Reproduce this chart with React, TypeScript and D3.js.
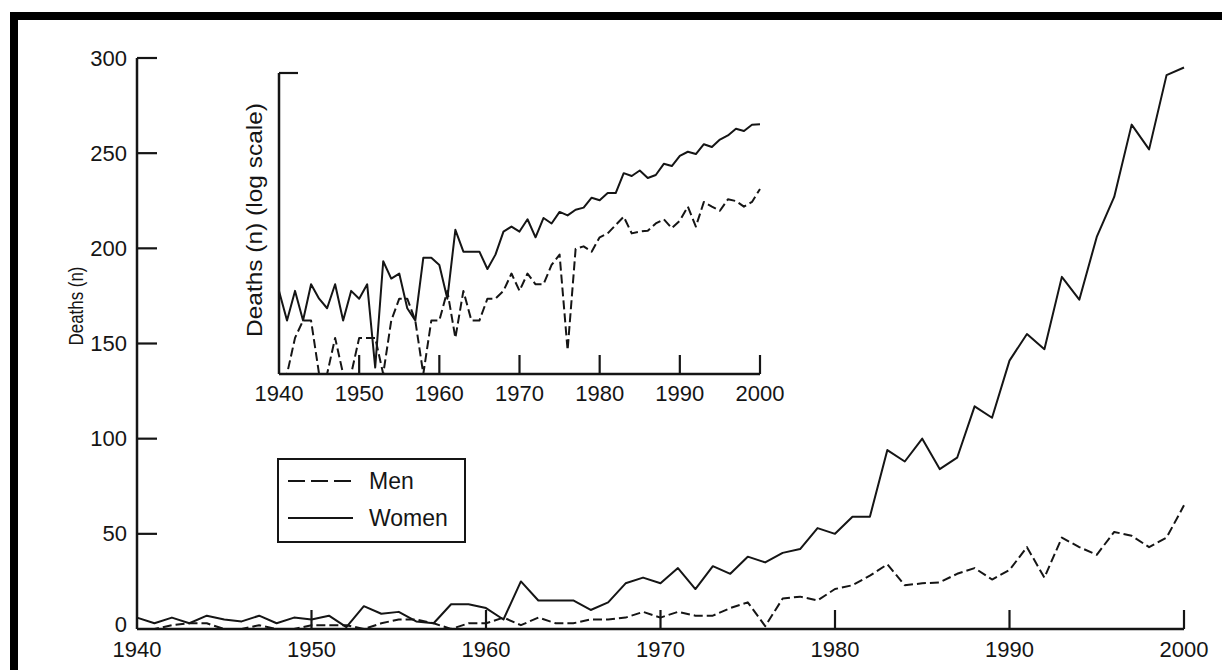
import React from "react";
import * as d3 from "d3";

// ---- data ----
const years: number[] = d3.range(1940, 2001);
const women: number[] = [
  6, 3, 6, 3, 7, 5, 4, 7, 3, 6,
  5, 7, 1, 12, 8, 9, 4, 3, 13, 13,
  11, 5, 25, 15, 15, 15, 10, 14, 24, 27,
  24, 32, 21, 33, 29, 38, 35, 40, 42, 53,
  50, 59, 59, 94, 88, 100, 84, 90, 117, 111,
  141, 155, 147, 185, 173, 206, 227, 265, 252, 291,
  295,
];
const men: number[] = [
  0, 0, 2, 3, 3, 0, 0, 2, 0, 0,
  2, 2, 2, 0, 3, 5, 5, 3, 0, 3,
  3, 6, 2, 6, 3, 3, 5, 5, 6, 9,
  6, 9, 7, 7, 11, 14, 1.5, 16, 17, 15,
  21, 23, 28, 34, 23, 24, 24.5, 29, 32, 26,
  31, 43, 27, 48, 43, 39, 51, 49, 43, 48,
  65,
];
const xTicks: number[] = [1940, 1950, 1960, 1970, 1980, 1990, 2000];
const yTicks: number[] = [0, 50, 100, 150, 200, 250, 300];
const legendItems = [
  { label: "Men", dashed: true },
  { label: "Women", dashed: false },
];

const FONT = "'Liberation Sans', Arial, sans-serif";
const INK = "#151515";

export default function App() {
  // main chart scales
  const x = d3.scaleLinear().domain([1940, 2000]).range([137, 1184]);
  const y = d3.scaleLinear().domain([0, 300]).range([629, 58]);
  // inset scales
  const ix = d3.scaleLinear().domain([1940, 2000]).range([279, 760]);
  const iyMin = 0.86;
  const iy = d3.scaleLog().domain([iyMin, 1000]).range([374, 72]);

  const mainLine = (vals: number[]) =>
    d3.line<number>().x((_, i) => x(years[i])).y((d) => y(d))(vals) || "";
  const insetLine = (vals: number[]) =>
    d3.line<number>().x((_, i) => ix(years[i])).y((d) => iy(Math.max(d, iyMin)))(vals) || "";

  const dash = "9,4";

  return (
    <svg
      width={1222}
      height={670}
      style={{ position: "absolute", left: 0, top: 0, background: "#fff" }}
      fontFamily={FONT}
    >
      <rect x={0} y={0} width={1222} height={670} fill="#fff" />
      {/* frame bars */}
      <rect x={10} y={12} width={1212} height={8} fill="#000" />
      <rect x={10} y={12} width={8} height={658} fill="#000" />

      {/* main axes */}
      <line x1={x(1940)} x2={x(2000)} y1={y(0)} y2={y(0)} stroke={INK} strokeWidth={2.5} />
      <line x1={x(1940)} x2={x(1940)} y1={y(0)} y2={y(300)} stroke={INK} strokeWidth={2.5} />
      {yTicks.filter((t) => t > 0).map((t) => (
        <line key={"yt" + t} x1={x(1940)} x2={x(1940) + 20} y1={y(t)} y2={y(t)} stroke={INK} strokeWidth={2.2} />
      ))}
      {yTicks.map((t) => (
        <text key={"yl" + t} x={127} y={t === 0 ? y(t) - 5 : y(t)} textAnchor="end" dominantBaseline="central" fontSize={22} fill={INK}>
          {t}
        </text>
      ))}
      {xTicks.filter((t) => t > 1940).map((t) => (
        <line key={"xt" + t} x1={x(t)} x2={x(t)} y1={y(0)} y2={y(0) - 19} stroke={INK} strokeWidth={2.2} />
      ))}
      {xTicks.map((t) => (
        <text key={"xl" + t} x={x(t)} y={657} textAnchor="middle" fontSize={22} fill={INK}>
          {t}
        </text>
      ))}
      <text
        transform={`translate(76,306) rotate(-90)`}
        textAnchor="middle"
        dominantBaseline="central"
        fontSize={20}
        textLength={79}
        lengthAdjust="spacingAndGlyphs"
        fill={INK}
      >
        Deaths (n)
      </text>

      {/* main series */}
      <path d={mainLine(women)} fill="none" stroke={INK} strokeWidth={2} strokeLinejoin="round" />
      <path d={mainLine(men)} fill="none" stroke={INK} strokeWidth={2} strokeDasharray={dash} strokeLinejoin="round" />

      {/* inset */}
      <line x1={ix(1940)} x2={ix(2000)} y1={374} y2={374} stroke={INK} strokeWidth={2.5} />
      <line x1={ix(1940)} x2={ix(1940)} y1={374} y2={73} stroke={INK} strokeWidth={2.5} />
      <line x1={ix(1940)} x2={ix(1940) + 19} y1={73} y2={73} stroke={INK} strokeWidth={2.2} />
      {xTicks.filter((t) => t > 1940).map((t) => (
        <line key={"ixt" + t} x1={ix(t)} x2={ix(t)} y1={374} y2={355} stroke={INK} strokeWidth={2.2} />
      ))}
      {xTicks.map((t) => (
        <text key={"ixl" + t} x={ix(t)} y={401} textAnchor="middle" fontSize={22} fill={INK}>
          {t}
        </text>
      ))}
      <text
        transform={`translate(254,220) rotate(-90)`}
        textAnchor="middle"
        dominantBaseline="central"
        fontSize={22}
        textLength={234}
        lengthAdjust="spacingAndGlyphs"
        fill={INK}
      >
        Deaths (n) (log scale)
      </text>
      <path d={insetLine(women)} fill="none" stroke={INK} strokeWidth={2} strokeLinejoin="round" />
      <path d={insetLine(men)} fill="none" stroke={INK} strokeWidth={2} strokeDasharray={dash} strokeLinejoin="round" />

      {/* legend */}
      <rect x={278} y={459} width={187} height={83} fill="#fff" stroke={INK} strokeWidth={2} />
      {legendItems.map((it, i) => (
        <g key={it.label} transform={`translate(0,${481 + i * 37})`}>
          <line x1={288} x2={353} y1={0} y2={0} stroke={INK} strokeWidth={2} strokeDasharray={it.dashed ? "17,6" : undefined} />
          <text x={369} y={0} dominantBaseline="central" fontSize={23} fill={INK}>
            {it.label}
          </text>
        </g>
      ))}
    </svg>
  );
}
